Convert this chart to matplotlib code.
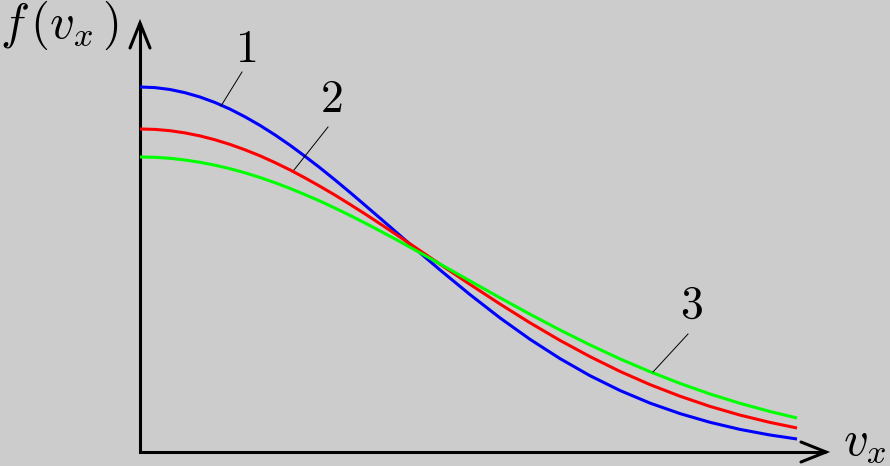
import matplotlib
matplotlib.use("Agg")
import matplotlib.pyplot as plt

plt.rcParams["mathtext.fontset"] = "cm"

# velocity samples (arbitrary units) and distribution heights for the three curves
v = [0, 15, 30, 45, 60, 75, 90, 105, 120, 135, 150, 165, 180, 195, 210, 225,
     240, 255, 270, 285, 300, 330, 360, 390, 420, 450, 480, 510, 540, 570,
     600, 630, 657]
f1 = [365.0, 364.4, 362.5, 359.3, 355.0, 349.5, 342.9, 335.2, 326.6, 317.1,
      306.8, 295.7, 284.2, 272.1, 259.6, 246.8, 233.9, 220.9, 207.8, 194.9,
      182.1, 157.4, 134.1, 112.7, 93.4, 76.3, 61.5, 48.9, 38.4, 29.7,
      22.6, 17.0, 13.0]
f2 = [323.0, 322.6, 321.3, 319.1, 316.1, 312.2, 307.6, 302.2, 296.2, 289.4,
      282.1, 274.1, 265.7, 256.9, 247.6, 238.1, 228.3, 218.3, 208.2, 198.0,
      187.8, 167.6, 148.0, 129.2, 111.6, 95.4, 80.6, 67.4, 55.8, 45.6,
      36.9, 29.6, 24.0]
f3 = [295.0, 294.7, 293.7, 292.0, 289.7, 286.8, 283.3, 279.2, 274.5, 269.3,
      263.6, 257.4, 250.9, 243.9, 236.6, 229.0, 221.1, 213.1, 204.8, 196.5,
      188.0, 171.1, 154.2, 137.8, 122.0, 107.1, 93.1, 80.3, 68.6, 58.0,
      48.7, 40.5, 34.0]

curves = [f1, f2, f3]
colors = ["#0000ff", "#ff0000", "#00ff00"]
labels = ["1", "2", "3"]
# leader line start (on curve) / end, and label position
leaders = [((81, 346), (102, 380), (106, 402)),
           ((154, 282), (188, 325), (191, 353)),
           ((513, 80), (548, 118), (551, 147))]

fig = plt.figure(figsize=(8.9, 4.66), dpi=100)
fig.patch.set_facecolor("#cccccc")
ax = fig.add_axes([0, 0, 1, 1])
ax.set_facecolor("#cccccc")
ax.set_xlim(-140, 750)
ax.set_ylim(-14, 452)
ax.axis("off")

lw = 2.2
# axes with arrows
ax.plot([0, 0, 686], [429, 0, 0], color="black", lw=lw,
        solid_joinstyle="miter", solid_capstyle="butt")
ax.plot([-10, 0, 10], [404, 429, 404], color="black", lw=lw,
        solid_joinstyle="miter", solid_capstyle="round")
ax.plot([661, 686, 661], [10, 0, -10], color="black", lw=lw,
        solid_joinstyle="miter", solid_capstyle="round")

for f, c in zip(curves, colors):
    ax.plot(v, f, color=c, lw=lw, solid_capstyle="butt")

for lab, (p0, p1, pt) in zip(labels, leaders):
    ax.plot([p0[0], p1[0]], [p0[1], p1[1]], color="black", lw=0.7)
    ax.text(pt[0], pt[1], "$%s$" % lab, fontsize=33, ha="center", va="center")

ax.text(-140, 414, r"$f\,(v_x\,)$", fontsize=35, ha="left", va="baseline")
ax.text(703, -3, r"$v_x$", fontsize=35, ha="left", va="baseline")

fig.savefig("out.png", dpi=100, facecolor=fig.get_facecolor())
